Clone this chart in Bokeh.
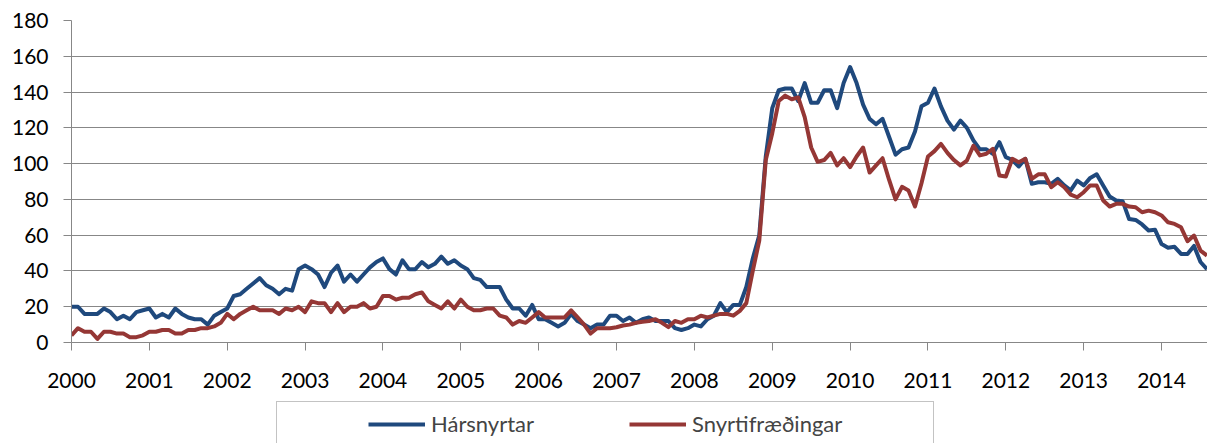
from bokeh.plotting import figure
from bokeh.models import FixedTicker, Legend, LegendItem, Range1d
from bokeh.layouts import column
from bokeh.embed import file_html
from bokeh.resources import INLINE

# ---- data (monthly, starting January 2000) ----
start_year = 2000
harsnyrtar = [
    20, 20, 16, 16, 16, 19, 17, 13, 15, 13, 17, 18,
    19, 14, 16, 14, 19, 16, 14, 13, 13, 10, 15, 17,
    19, 26, 27, 30, 33, 36, 32, 30, 27, 30, 29, 41,
    43, 41, 38, 31, 39, 43, 34, 38, 34, 38, 42, 45,
    47, 41, 38, 46, 41, 41, 45, 42, 44, 48, 44, 46,
    43, 41, 36, 35, 31, 31, 31, 24, 19, 19, 15, 21,
    13, 13, 11, 9, 11, 16, 12, 10, 8, 10, 10, 15,
    15, 12, 14, 11, 13, 14, 12, 12, 12, 8, 7, 8,
    10, 9, 13, 15, 22, 17, 21, 21, 31, 47, 60, 104,
    131, 141, 142, 142, 135, 145, 134, 134, 141, 141, 131, 145,
    154, 145, 133, 125, 122, 125, 115, 105, 108, 109, 118, 132,
    134, 142, 132, 124, 119, 124, 120, 113, 108, 108, 105.5, 112,
    103.6, 102, 98.4, 102.7, 88.7, 89.6, 89.6, 88.7, 91.5, 87.8, 85, 90.5,
    87.8, 92, 94, 87.8, 81.6, 79.4, 79, 69, 68.5, 66, 62.6, 63,
    55, 53, 53.5, 49.5, 49.5, 54, 45, 41,
]
snyrtifraedingar = [
    4, 8, 6, 6, 2, 6, 6, 5, 5, 3, 3, 4,
    6, 6, 7, 7, 5, 5, 7, 7, 8, 8, 9, 11,
    16, 13, 16, 18, 20, 18, 18, 18, 16, 19, 18, 20,
    17, 23, 22, 22, 17, 22, 17, 20, 20, 22, 19, 20,
    26, 26, 24, 25, 25, 27, 28, 23, 21, 19, 23, 19,
    24, 20, 18, 18, 19, 19, 15, 14, 10, 12, 11, 14,
    17, 14, 14, 14, 14, 18, 14, 10, 5, 8, 8, 8,
    8.5, 9.5, 10, 11, 11.6, 12, 13, 11, 8.6, 12, 11, 13,
    13, 15, 14, 15, 16, 16, 15, 17.7, 22, 40, 57, 102,
    117, 135, 138, 136, 137, 126, 109, 101, 102, 106, 99, 103,
    98, 104, 109, 95, 99, 103, 91, 80, 87, 85, 76, 89,
    104, 107, 111, 106, 102, 99, 101.7, 110, 104.6, 105.5, 108.3, 93.4,
    92.8, 102.7, 100.8, 102.7, 91.5, 94, 94, 86.8, 89.6, 86.8, 82.7, 81.2,
    84, 87.8, 87.8, 79.4, 76, 77.5, 77.5, 76, 75.6, 72.8, 73.7, 72.8,
    71, 67.2, 66.3, 64.4, 56.6, 59.8, 51.4, 48.6,
]
series_names = ["Hársnyrtar", "Snyrtifræðingar"]
series_colors = ["#1F497D", "#953735"]
year_ticks = list(range(2000, 2015))
value_ticks = list(range(0, 181, 20))

x = [start_year + i / 12 for i in range(len(harsnyrtar))]

FONT = "Lato"
GRAY = "#878787"

# ---- main chart ----
p = figure(width=1207, height=401, output_backend="svg", toolbar_location=None,
           x_range=Range1d(2000, 2014.59), y_range=Range1d(0, 180),
           min_border_left=71, min_border_right=0, min_border_top=20,
           min_border_bottom=59)
p.outline_line_color = None
p.background_fill_color = "white"
p.border_fill_color = "white"

p.xgrid.visible = False
p.ygrid.ticker = FixedTicker(ticks=value_ticks)
p.ygrid.grid_line_color = GRAY
p.ygrid.grid_line_width = 1

for ax in (p.xaxis[0], p.yaxis[0]):
    ax.axis_line_color = GRAY
    ax.axis_line_width = 1
    ax.major_tick_line_color = GRAY
    ax.major_tick_out = 8
    ax.major_tick_in = 0
    ax.minor_tick_line_color = None
    ax.major_label_text_font = FONT
    ax.major_label_text_font_size = "21px"
    ax.major_label_text_color = "black"

p.xaxis.ticker = FixedTicker(ticks=year_ticks)
p.yaxis.ticker = FixedTicker(ticks=value_ticks)
p.xaxis.major_label_standoff = 22
p.yaxis.major_label_standoff = 15

p.line(x, harsnyrtar, line_color=series_colors[0], line_width=4, line_join="round")
p.line(x, snyrtifraedingar, line_color=series_colors[1], line_width=4, line_join="round")

# ---- legend strip (its ranges keep the series out of view) ----
q = figure(width=1207, height=42, output_backend="svg", toolbar_location=None,
           x_range=Range1d(0, 1), y_range=Range1d(0, 1),
           x_axis_location=None, y_axis_location=None,
           min_border_left=0, min_border_right=0, min_border_top=0,
           min_border_bottom=0)
q.outline_line_color = None
q.grid.visible = False
q.background_fill_color = "white"
q.border_fill_color = "white"

l1 = q.line(x, harsnyrtar, line_color=series_colors[0], line_width=4)
l2 = q.line(x, snyrtifraedingar, line_color=series_colors[1], line_width=4)
dummy = q.line(x, harsnyrtar, line_alpha=0)

legend = Legend(
    items=[
        LegendItem(label="", renderers=[dummy]),
        LegendItem(label=series_names[0], renderers=[l1]),
        LegendItem(label="", renderers=[dummy]),
        LegendItem(label=series_names[1], renderers=[l2]),
        LegendItem(label="", renderers=[dummy]),
    ],
    orientation="horizontal", location=(205, -3),
    glyph_width=57, glyph_height=20, label_standoff=6, spacing=12,
    padding=8, label_width=8, margin=0,
    label_text_font=FONT, label_text_font_size="22px",
    border_line_color=GRAY, border_line_width=1,
    background_fill_color="white", background_fill_alpha=1,
)
q.add_layout(legend)

layout = column(p, q, spacing=0)
open("out.html", "w").write(file_html(layout, INLINE))
